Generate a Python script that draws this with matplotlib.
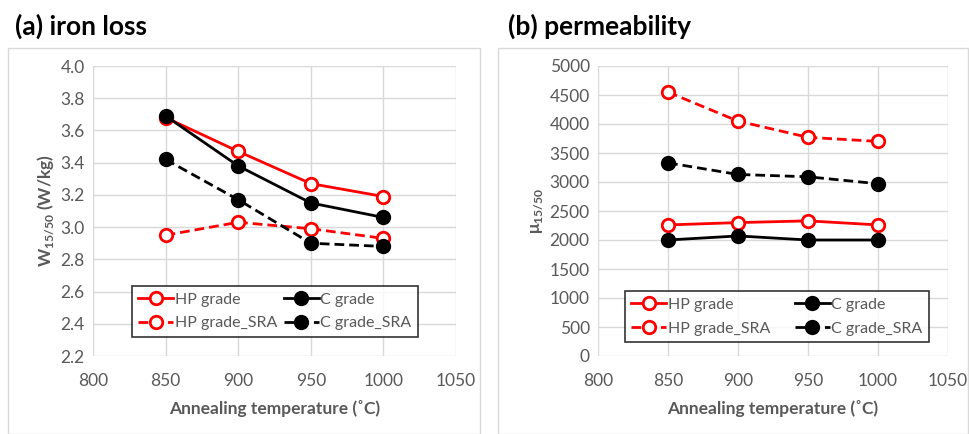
import matplotlib.pyplot as plt
from matplotlib.patches import Rectangle

plt.rcParams['font.family'] = ['Lato', 'DejaVu Sans']
plt.rcParams['mathtext.fontset'] = 'custom'
plt.rcParams['mathtext.bf'] = 'Lato:bold'
plt.rcParams['mathtext.rm'] = 'Lato'

# Annealing temperatures (C)
temps = [850, 900, 950, 1000]

# (a) iron loss W15/50 (W/kg)
loss_hp = [3.68, 3.47, 3.27, 3.19]
loss_c = [3.69, 3.38, 3.15, 3.06]
loss_hp_sra = [2.95, 3.03, 2.99, 2.93]
loss_c_sra = [3.42, 3.17, 2.90, 2.88]

# (b) permeability mu15/50
perm_hp = [2260, 2300, 2330, 2260]
perm_c = [2000, 2070, 2000, 2000]
perm_hp_sra = [4550, 4050, 3770, 3700]
perm_c_sra = [3330, 3130, 3090, 2970]

labels = ["HP grade", "C grade", "HP grade_SRA", "C grade_SRA"]

RED = "#ff0000"
GRAY = "#595959"


def draw_panel(ax, series, ylim, ystep, ylabel, fmt, legend_box):
    styles = [
        dict(color=RED, ls="-", mfc="white"),
        dict(color="black", ls="-", mfc="black"),
        dict(color=RED, ls=(0, (3.5, 1.8)), mfc="white"),
        dict(color="black", ls=(0, (3.5, 1.8)), mfc="black"),
    ]
    handles = []
    for vals, st, lab in zip(series, styles, labels):
        h, = ax.plot(temps, vals, color=st["color"], ls=st["ls"], lw=2,
                     marker="o", ms=9, mfc=st["mfc"], mec=st["color"], mew=2,
                     label=lab)
        handles.append(h)
    ax.set_xlim(800, 1050)
    ax.set_xticks(range(800, 1051, 50))
    ax.set_ylim(*ylim)
    ticks = []
    v = ylim[0]
    while v <= ylim[1] + 1e-9:
        ticks.append(v)
        v += ystep
    ax.set_yticks(ticks)
    ax.set_yticklabels([fmt.format(t) for t in ticks])
    ax.grid(True, color="#d9d9d9", lw=1)
    ax.set_axisbelow(True)
    for s in ax.spines.values():
        s.set_visible(False)
    ax.tick_params(length=0, labelsize=12.5, labelcolor=GRAY)
    ax.tick_params(axis="x", pad=12)
    ax.tick_params(axis="y", pad=6)
    ax.set_xlabel("Annealing temperature (˚C)", fontsize=12.5,
                  fontweight="bold", color=GRAY, labelpad=8)
    ax.set_ylabel(ylabel, fontsize=12.5, fontweight="bold", color=GRAY,
                  labelpad=3)
    order = [handles[0], handles[2], handles[1], handles[3]]
    leg = ax.legend(order, [h.get_label() for h in order], ncol=2,
                    loc="lower left", bbox_to_anchor=legend_box, mode="expand",
                    fontsize=11.5, frameon=True, fancybox=False,
                    edgecolor="black", handlelength=2.2, handletextpad=0.1,
                    borderpad=0.4, labelspacing=0.6, columnspacing=0.5,
                    borderaxespad=0)
    leg.get_frame().set_linewidth(1.2)
    for t in leg.get_texts():
        t.set_color(GRAY)


fig = plt.figure(figsize=(9.69, 4.34), dpi=100)
W, H = 969, 434

# light chart frames
fig.patches.append(Rectangle((8 / W, 0), 472 / W, 1 - 48 / H,
                             transform=fig.transFigure, fill=False,
                             ec="#d9d9d9", lw=1))
fig.patches.append(Rectangle((498 / W, 0), 470 / W, 1 - 48 / H,
                             transform=fig.transFigure, fill=False,
                             ec="#d9d9d9", lw=1))

ax1 = fig.add_axes([93 / W, 1 - 356 / H, 363 / W, 290 / H])
ax2 = fig.add_axes([598 / W, 1 - 356 / H, 350 / W, 290 / H])

draw_panel(ax1, [loss_hp, loss_c, loss_hp_sra, loss_c_sra], (2.2, 4.0), 0.2,
           "W$_{\\mathbf{15/50}}$ (W/kg)", "{:.1f}",
           (0.107, 0.066, 0.788, 0.182))
draw_panel(ax2, [perm_hp, perm_c, perm_hp_sra, perm_c_sra], (0, 5000), 500,
           "μ$_{\\mathbf{15/50}}$", "{:.0f}",
           (0.077, 0.048, 0.869, 0.20))

fig.text(15 / W, 1 - 26 / H, "(a) iron loss", fontsize=19, fontweight="bold",
         va="center", ha="left")
fig.text(508 / W, 1 - 26 / H, "(b) permeability", fontsize=19,
         fontweight="bold", va="center", ha="left")

fig.savefig("out.png", dpi=100)
